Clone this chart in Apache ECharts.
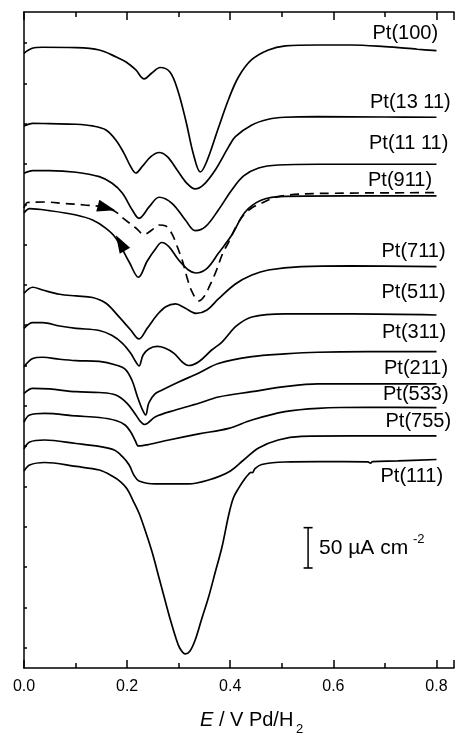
<!DOCTYPE html>
<html>
<head>
<meta charset="utf-8">
<script src="https://cdn.jsdelivr.net/npm/echarts@6/dist/echarts.min.js"></script>
<style>
  html, body { margin: 0; padding: 0; background: #fff; }
  #chart { width: 457px; height: 734px; }
</style>
</head>
<body>
<div id="chart"></div>
<script>
// Potential E (V vs Pd/H2) and current density j (µA cm^-2, curves offset vertically)
const pt100 = [[0,762.2],[0.016,768.4],[0.036,769.7],[0.101,769.2],[0.146,766.3],[0.179,757.6],[0.198,751.4],[0.217,741.5],[0.233,730.4],[0.248,737.8],[0.264,744.6],[0.283,739],[0.298,716.7],[0.314,678.3],[0.329,636.1],[0.342,615],[0.354,627.4],[0.377,669.6],[0.397,705.6],[0.416,732.8],[0.441,753.9],[0.474,766.3],[0.507,771.3],[0.570,772.5],[0.634,772.5],[0.700,770.4],[0.763,767.2],[0.800,765.5]];
const pt1311 = [[0,672.1],[0.017,675.4],[0.049,674.9],[0.101,674.2],[0.133,672.1],[0.159,667.1],[0.178,654.7],[0.194,638.2],[0.207,621.6],[0.217,613.8],[0.229,621.6],[0.246,634],[0.262,639.2],[0.278,634],[0.297,617.5],[0.316,601],[0.332,594],[0.348,598.9],[0.371,617.5],[0.397,646.4],[0.410,658.8],[0.442,673.3],[0.474,680.4],[0.506,682.9],[0.570,683.6],[0.699,683.2],[0.800,682.9]];
const pt1111 = [[0,613.4],[0.017,616.7],[0.049,616.7],[0.101,614.7],[0.146,609.2],[0.171,601],[0.191,588.6],[0.210,567.9],[0.223,557.6],[0.243,572],[0.262,583.7],[0.287,576.2],[0.313,555.5],[0.332,542.3],[0.352,547.2],[0.377,567.9],[0.403,592.7],[0.426,610.1],[0.455,620],[0.493,623.7],[0.570,624.6],[0.800,624.6]];
const pt911 = [[0,564.2],[0.011,569.5],[0.049,567.1],[0.101,561.7],[0.133,555.5],[0.159,545.2],[0.178,533.2],[0.204,503.4],[0.222,484.5],[0.239,504.7],[0.255,519.6],[0.267,527.6],[0.281,522.4],[0.300,505.9],[0.319,493.5],[0.333,489.8],[0.355,495.6],[0.377,514.2],[0.403,536.9],[0.429,565.4],[0.461,580.3],[0.506,584.7],[0.628,585.3],[0.800,585.3]];
const pt911Return = [[0,570.4],[0.007,577.2],[0.040,577.8],[0.078,576],[0.117,574.1],[0.146,572.3],[0.175,566.7],[0.194,556.8],[0.217,545.6],[0.233,537.5],[0.248,543.1],[0.262,549.3],[0.275,548.1],[0.287,538.2],[0.296,524.5],[0.308,503.4],[0.317,482.4],[0.327,465],[0.339,455.1],[0.350,461.3],[0.360,473.7],[0.372,491],[0.385,513.4],[0.397,528.2],[0.412,548.1],[0.426,561.7],[0.443,571],[0.460,576],[0.484,582.8],[0.513,586.5],[0.570,588.4],[0.800,589.4]];
const pt711 = [[0,464.6],[0.017,472.1],[0.036,468.7],[0.069,463.4],[0.101,461.3],[0.133,459.4],[0.159,452.2],[0.184,435.6],[0.207,419.1],[0.223,408],[0.239,421.2],[0.258,437.7],[0.275,448],[0.294,451.4],[0.313,446],[0.334,439.6],[0.355,443.9],[0.377,457.6],[0.410,476.2],[0.442,487.3],[0.474,493.5],[0.538,497.6],[0.634,498.5],[0.800,497.6]];
const pt511 = [[0,421.2],[0.017,428.2],[0.036,428.2],[0.069,424.1],[0.101,421.2],[0.146,418.5],[0.171,412.3],[0.191,402.6],[0.207,390.2],[0.217,379.4],[0.223,374.5],[0.231,388.1],[0.242,395.6],[0.258,398.7],[0.273,396.8],[0.291,390.2],[0.307,379.4],[0.319,375.1],[0.339,379.8],[0.364,394.3],[0.384,404.2],[0.412,424.1],[0.442,435.2],[0.506,439],[0.635,439],[0.800,437.7]];
const pt311 = [[0,373.6],[0.017,383.8],[0.036,385.3],[0.069,382.8],[0.101,381.1],[0.146,380.1],[0.178,375.7],[0.197,370.1],[0.210,355.9],[0.220,336.4],[0.229,321.2],[0.236,313.7],[0.242,328.6],[0.254,339.8],[0.268,344.7],[0.300,354.6],[0.339,365.8],[0.377,377.6],[0.442,386],[0.506,389.4],[0.570,391.5],[0.667,392.2],[0.800,392.2]];
const pt211 = [[0,340.6],[0.017,346.8],[0.049,346],[0.101,342.6],[0.146,341.6],[0.178,338.5],[0.200,328.2],[0.217,313.7],[0.226,305.4],[0.234,301.9],[0.255,311.6],[0.294,319.9],[0.339,328.2],[0.377,336],[0.442,342.6],[0.506,348.8],[0.570,352.2],[0.800,352.2]];
const pt533 = [[0,305],[0.011,313.7],[0.040,315.6],[0.101,312.5],[0.146,310.6],[0.178,306.9],[0.196,301.3],[0.207,292.6],[0.216,281.5],[0.222,275.3],[0.242,277.1],[0.281,282.7],[0.339,290.2],[0.397,297.2],[0.442,307.5],[0.506,317.8],[0.570,322],[0.667,323.3],[0.800,322.8]];
const pt755 = [[0,271.6],[0.011,280.2],[0.040,282.7],[0.101,278.4],[0.146,274.7],[0.175,270.3],[0.191,262],[0.204,251.7],[0.213,239.3],[0.223,231.9],[0.255,228.2],[0.319,228.2],[0.358,233.1],[0.397,243],[0.426,257.9],[0.455,272.8],[0.493,282.7],[0.538,287.1],[0.635,287.7],[0.800,287.7]];
const pt111 = [[0,244.3],[0.011,251.7],[0.040,254.8],[0.101,249.9],[0.146,245.5],[0.171,238.1],[0.188,230.6],[0.200,222],[0.211,208.3],[0.223,192.2],[0.236,168.6],[0.249,142.6],[0.262,111.6],[0.275,80.6],[0.284,59.5],[0.294,38.4],[0.302,24.8],[0.313,17.4],[0.322,21.1],[0.332,34.7],[0.344,59.5],[0.358,88],[0.371,119],[0.384,150],[0.397,189.7],[0.406,210.8],[0.416,222.8],[0.428,234.4],[0.436,240.6],[0.440,242.6],[0.443,242.2],[0.448,247.3],[0.461,252.3],[0.506,255.4],[0.570,255.8],[0.667,255.6],[0.672,254],[0.676,256],[0.725,256.7],[0.800,258.5]];

const curveNames = ['Pt(100)','Pt(13 11)','Pt(11 11)','Pt(911)','Pt(711)','Pt(511)','Pt(311)','Pt(211)','Pt(533)','Pt(755)','Pt(111)'];
const solidCurves = [pt100, pt1311, pt1111, pt911, pt711, pt511, pt311, pt211, pt533, pt755, pt111];

// sweep-direction arrowheads: [E, j, rotation in degrees]
const sweepArrows = [[0.160, 570.4, -105], [0.187, 527, 30]];

// 50 µA cm^-2 scale bar
const scaleBar = [[0.551, 124], [0.551, 174]];

const xTickValues = [0, 0.2, 0.4, 0.6, 0.8];
const yTickValues = [25,75,125,175,225,275,325,375,425,475,525,575,625,675,725,775];

const FONT = '"Liberation Sans", Arial, Helvetica, sans-serif';
const INK = '#000';

const chart = echarts.init(document.getElementById('chart'), null, { renderer: 'canvas' });

function xAxisDef(position, showLabels) {
  return {
    type: 'value', position: position, min: 0, max: 0.834, interval: 0.2,
    axisLine: { show: true, onZero: false, lineStyle: { color: INK, width: 1.5 } },
    axisTick: { show: true, inside: true, length: 8, lineStyle: { color: INK, width: 1.5 } },
    minorTick: { show: true, splitNumber: 2, length: 5, lineStyle: { color: INK, width: 1.5 } },
    axisLabel: {
      show: showLabels, margin: 11, fontSize: 16, color: INK, fontFamily: FONT,
      formatter: function (v) {
        return xTickValues.some(function (t) { return Math.abs(t - v) < 1e-6; }) ? v.toFixed(1) : '';
      }
    },
    splitLine: { show: false }, minorSplitLine: { show: false }
  };
}

const series = solidCurves.map(function (d, i) {
  return {
    name: curveNames[i], type: 'line', data: d, xAxisIndex: 0, yAxisIndex: 0,
    showSymbol: false, smooth: 0.35, silent: true,
    lineStyle: { color: INK, width: 1.7 }
  };
});

series.push({
  name: 'Pt(911) return', type: 'line', data: pt911Return, showSymbol: false, smooth: 0.35, silent: true,
  lineStyle: { color: INK, width: 1.7, type: [9, 6] }
});

series.push({
  name: 'arrows', type: 'scatter', silent: true, z: 5,
  data: sweepArrows.map(function (a) { return { value: [a[0], a[1]], symbolRotate: a[2] }; }),
  symbol: 'triangle', symbolSize: [12, 18],
  itemStyle: { color: INK, opacity: 1 }
});

series.push({
  name: 'scale', type: 'line', data: scaleBar, silent: true,
  showSymbol: true, symbol: 'rect', symbolSize: [9, 1.6],
  itemStyle: { color: INK }, lineStyle: { color: INK, width: 1.5 }
});

const labelPos = [[372.5,33],[370,102],[369,143.5],[368,180],[381.5,251],[381.5,292],[382,332],[384,368],[383,394],[385.5,421],[380.5,476]];

const graphics = curveNames.map(function (n, i) {
  return {
    type: 'text', x: labelPos[i][0], y: labelPos[i][1], silent: true,
    style: { text: n, font: '20px ' + FONT, fill: INK, align: 'left', verticalAlign: 'middle' }
  };
});

graphics.push({
  type: 'text', x: 319, y: 548, silent: true,
  style: { text: '50 µA cm', font: '21px ' + FONT, fill: INK, align: 'left', verticalAlign: 'middle' }
});
graphics.push({
  type: 'text', x: 413, y: 539, silent: true,
  style: { text: '-2', font: '13px ' + FONT, fill: INK, align: 'left', verticalAlign: 'middle' }
});
graphics.push({
  type: 'text', x: 200, y: 720, silent: true,
  style: {
    text: '{i|E} / V Pd/H', font: '20px ' + FONT, fill: INK, align: 'left', verticalAlign: 'middle',
    rich: { i: { fontStyle: 'italic', fontSize: 20, fontFamily: FONT } }
  }
});
graphics.push({
  type: 'text', x: 296, y: 729, silent: true,
  style: { text: '2', font: '13px ' + FONT, fill: INK, align: 'left', verticalAlign: 'middle' }
});

chart.setOption({
  animation: false,
  backgroundColor: '#fff',
  grid: { left: 24, right: 0, top: 12, bottom: 66, containLabel: false },
  xAxis: [xAxisDef('bottom', true), xAxisDef('top', false)],
  yAxis: {
    type: 'value', min: 0, max: 813.4,
    axisLine: { show: true, onZero: false, lineStyle: { color: INK, width: 1.5 } },
    axisTick: { show: true, inside: true, length: 3, customValues: yTickValues, lineStyle: { color: INK, width: 1.5 } },
    axisLabel: { show: false },
    splitLine: { show: false }
  },
  series: series,
  graphic: graphics
});
</script>
</body>
</html>
